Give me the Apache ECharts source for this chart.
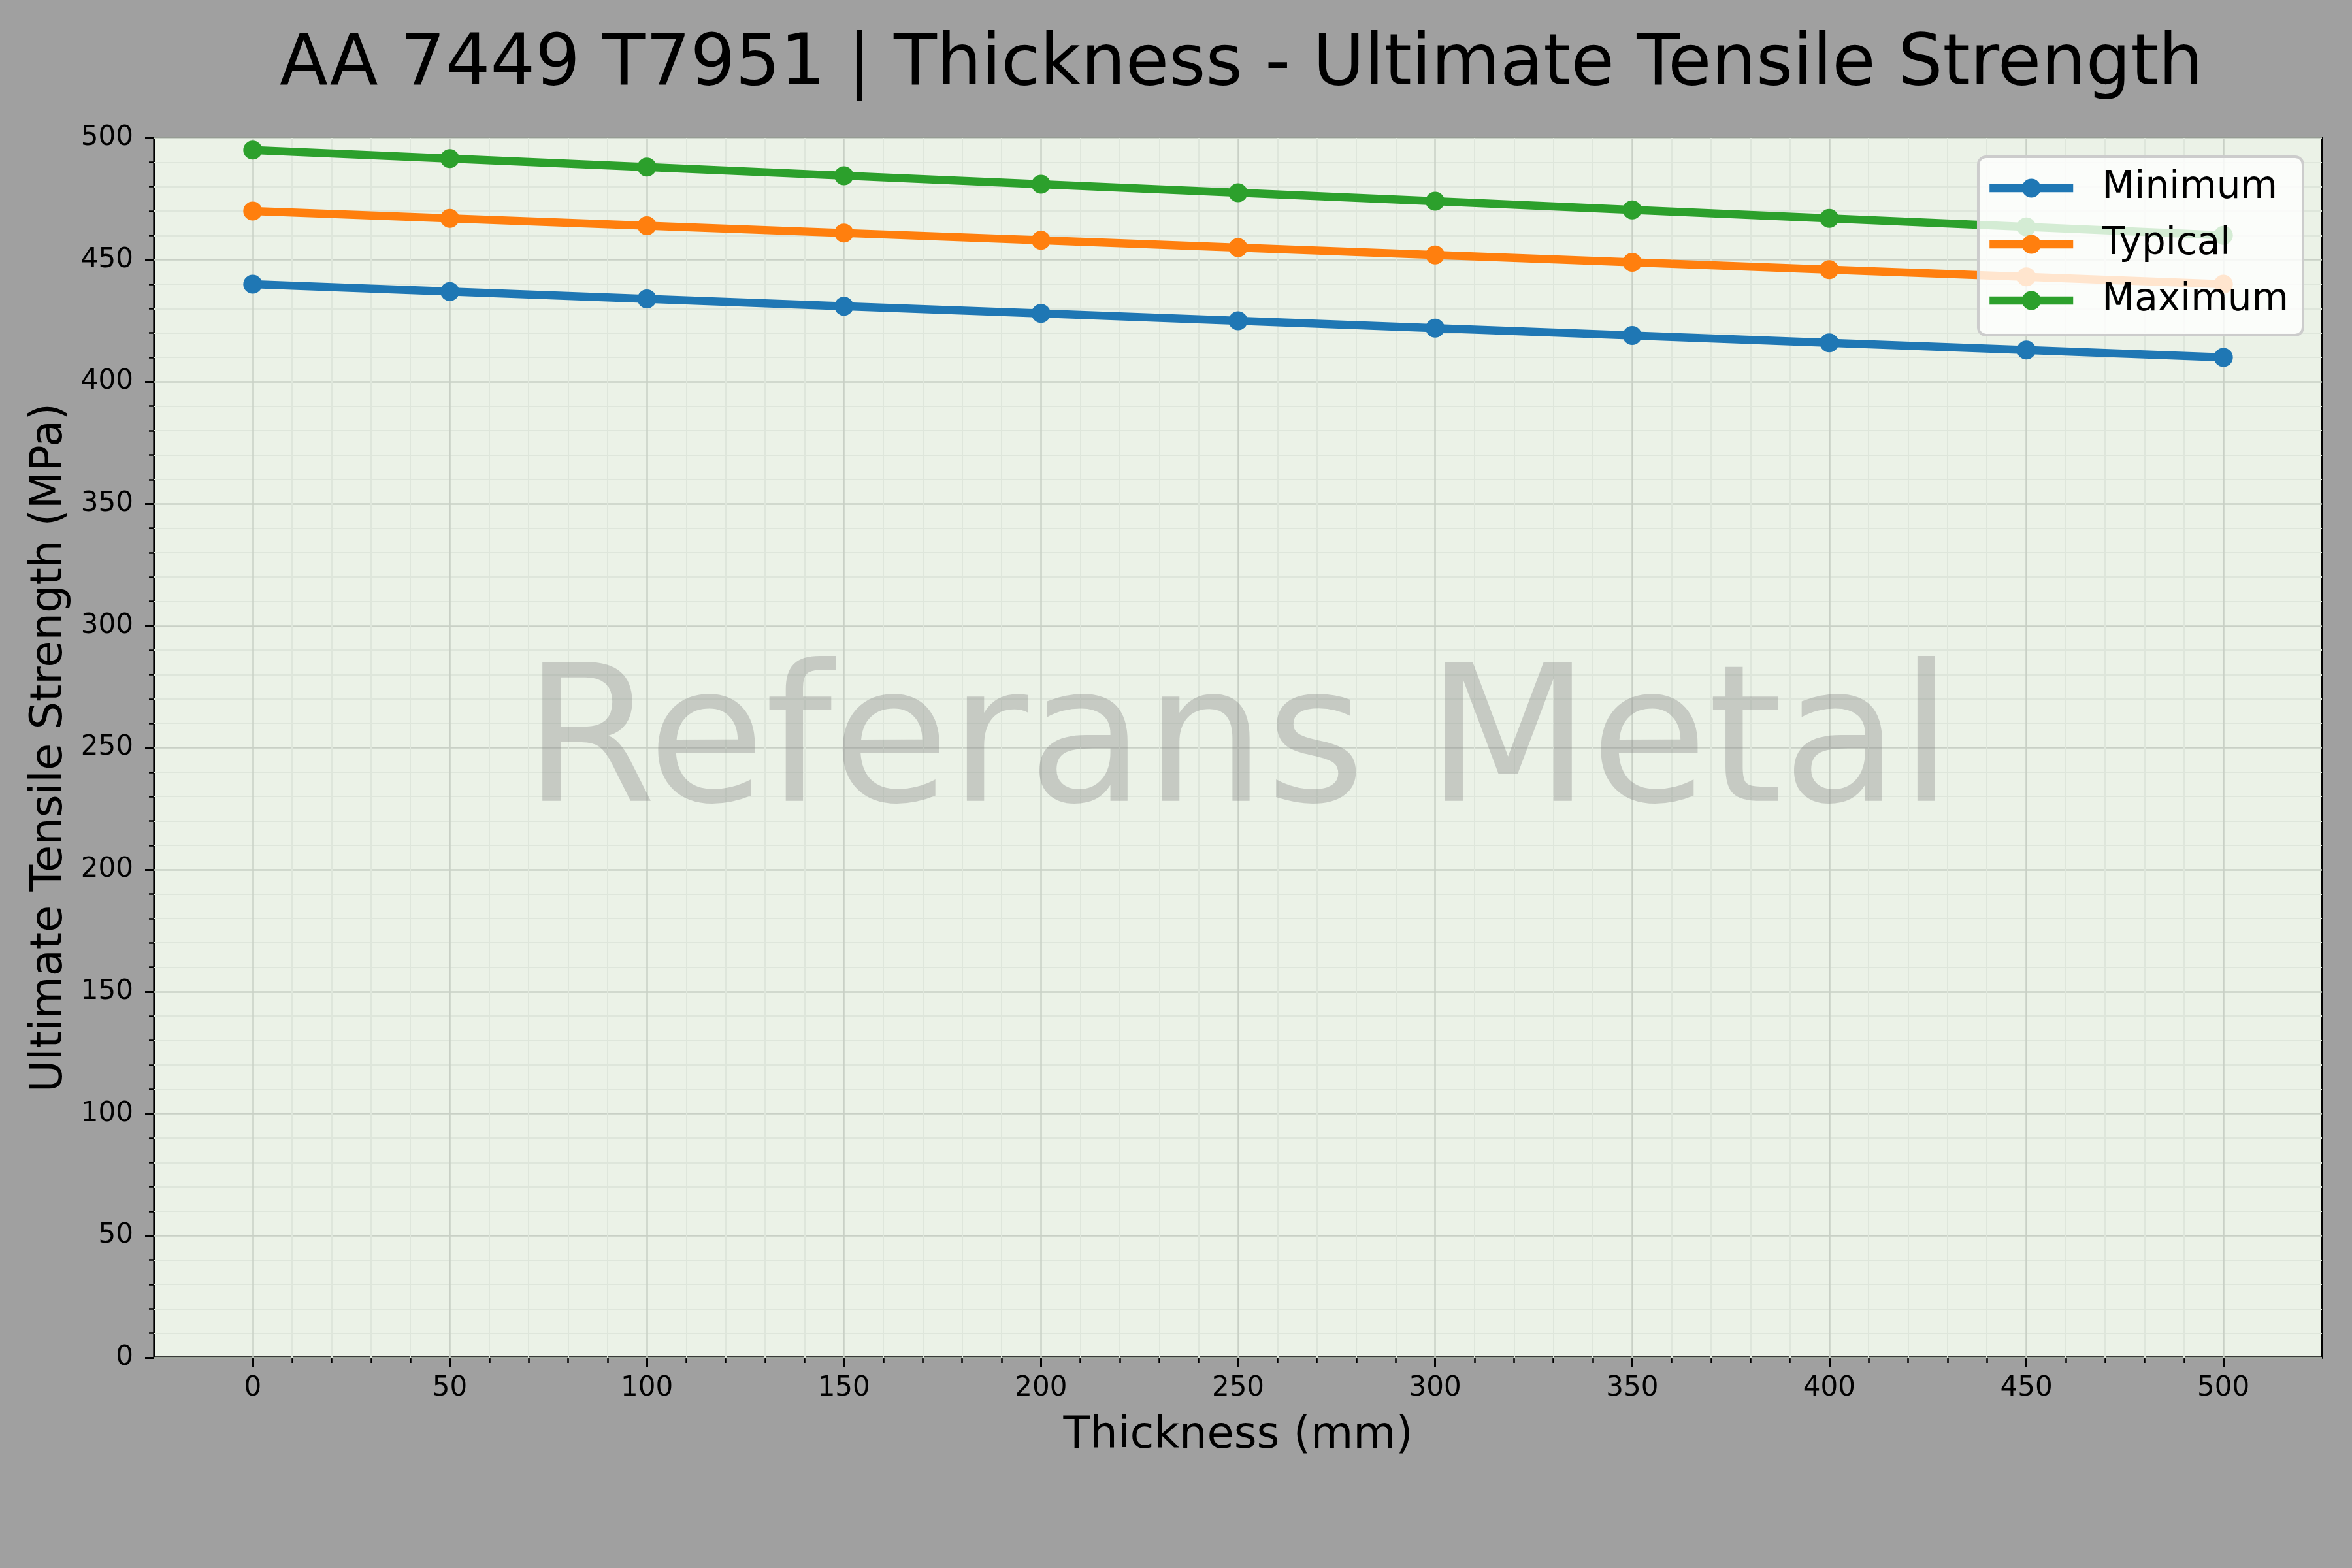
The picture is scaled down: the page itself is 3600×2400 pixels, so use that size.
<!DOCTYPE html>
<html>
<head>
<meta charset="utf-8">
<script src="https://cdn.jsdelivr.net/npm/echarts@6/dist/echarts.min.js"></script>
<style>
html,body{margin:0;padding:0;background:#a0a0a0;}
#chart{width:3600px;height:2400px;}
</style>
</head>
<body>
<div id="chart"></div>
<script>
const thickness = [0, 50, 100, 150, 200, 250, 300, 350, 400, 450, 500];
const minimum = [440, 437, 434, 431, 428, 425, 422, 419, 416, 413, 410];
const typical = [470, 467, 464, 461, 458, 455, 452, 449, 446, 443, 440];
const maximum = [495, 491.5, 488, 484.5, 481, 477.5, 474, 470.5, 467, 463.5, 460];
const seriesNames = ['Minimum', 'Typical', 'Maximum'];
const colors = ['#1f77b4', '#ff7f0e', '#2ca02c'];

const FONT = 'DejaVu Sans';
const plotL = 236, plotT = 211, plotW = 3318, plotH = 1867;
const xMin = -25, xMax = 525;
const pxPerUnit = plotW / (xMax - xMin);
const g1L = plotL + (0 - xMin) * pxPerUnit;
const g1W = 500 * pxPerUnit;

function pairs(ys) { return thickness.map((x, i) => [x, ys[i]]); }

const chart = echarts.init(document.getElementById('chart'), null, {renderer: 'canvas'});
const majorGrid = {show: true, lineStyle: {color: '#c9d0c6', width: 2.5}};
const minorGrid = {show: true, lineStyle: {color: '#dee6db', width: 2}};

chart.setOption({
  animation: false,
  backgroundColor: '#a0a0a0',
  textStyle: {fontFamily: FONT},
  title: {
    text: 'AA 7449 T7951 | Thickness - Ultimate Tensile Strength',
    left: plotL + plotW / 2, textAlign: 'center', top: 42,
    textStyle: {fontFamily: FONT, fontSize: 108, fontWeight: 'normal', color: '#000'}
  },
  grid: [
    {left: plotL, top: plotT, width: plotW, height: plotH, show: true,
     backgroundColor: '#ebf2e7', borderColor: '#000', borderWidth: 3.3, containLabel: false},
    {left: g1L, top: plotT, width: g1W, height: plotH, show: false, containLabel: false}
  ],
  xAxis: [
    {type: 'value', gridIndex: 0, min: xMin, max: xMax,
     axisLine: {show: false, onZero: false}, axisTick: {show: false}, axisLabel: {show: false}, splitLine: {show: false}},
    {type: 'value', gridIndex: 1, min: 0, max: 500, interval: 50, position: 'bottom',
     axisLine: {show: false, onZero: false},
     axisTick: {show: true, inside: false, length: 14, lineStyle: {color: '#000', width: 3}},
     minorTick: {show: true, splitNumber: 5, length: 8, lineStyle: {color: '#000', width: 2.5}},
     splitLine: majorGrid, minorSplitLine: minorGrid,
     axisLabel: {show: true, margin: 26, fontSize: 42, color: '#000', fontFamily: FONT},
     name: 'Thickness (mm)', nameLocation: 'middle', nameGap: 87,
     nameTextStyle: {fontSize: 67, color: '#000', fontFamily: FONT}}
  ],
  yAxis: [
    {type: 'value', gridIndex: 0, min: 0, max: 500, interval: 50, position: 'left',
     axisLine: {show: false, onZero: false},
     axisTick: {show: true, inside: false, length: 14, lineStyle: {color: '#000', width: 3}},
     minorTick: {show: true, splitNumber: 5, length: 8, lineStyle: {color: '#000', width: 2.5}},
     splitLine: majorGrid, minorSplitLine: minorGrid,
     axisLabel: {show: true, margin: 32, fontSize: 42, color: '#000', fontFamily: FONT},
     name: 'Ultimate Tensile Strength (MPa)', nameLocation: 'middle', nameGap: 126,
     nameTextStyle: {fontSize: 67, color: '#000', fontFamily: FONT}},
    {type: 'value', gridIndex: 1, min: 0, max: 500, show: false, axisLine: {onZero: false}}
  ],
  legend: {
    data: seriesNames,
    orient: 'vertical', right: 75, top: 240,
    backgroundColor: 'rgba(255,255,255,0.8)', borderColor: '#cccccc', borderWidth: 4, borderRadius: 12,
    padding: [19, 22, 24, 11],
    itemWidth: 128, itemHeight: 36, itemGap: 28,
    lineStyle: {width: 12.5},
    textStyle: {fontSize: 58, lineHeight: 58, color: '#000', fontFamily: FONT, padding: [0, 0, 0, 39]},
    z: 10
  },
  graphic: [{
    type: 'text', x: plotL + plotW / 2, y: 1150, z: 5, silent: true,
    style: {text: 'Referans Metal', fontSize: 292, fontFamily: FONT,
            fill: 'rgba(128,128,128,0.35)', align: 'center', verticalAlign: 'middle'}
  }],
  series: [minimum, typical, maximum].map((vals, i) => ({
    name: seriesNames[i], type: 'line', xAxisIndex: 0, yAxisIndex: 0,
    data: pairs(vals), symbol: 'circle', symbolSize: 29, showSymbol: true,
    lineStyle: {color: colors[i], width: 12.5}, itemStyle: {color: colors[i]},
    emphasis: {disabled: true}, z: 3 + i
  }))
});
</script>
</body>
</html>
